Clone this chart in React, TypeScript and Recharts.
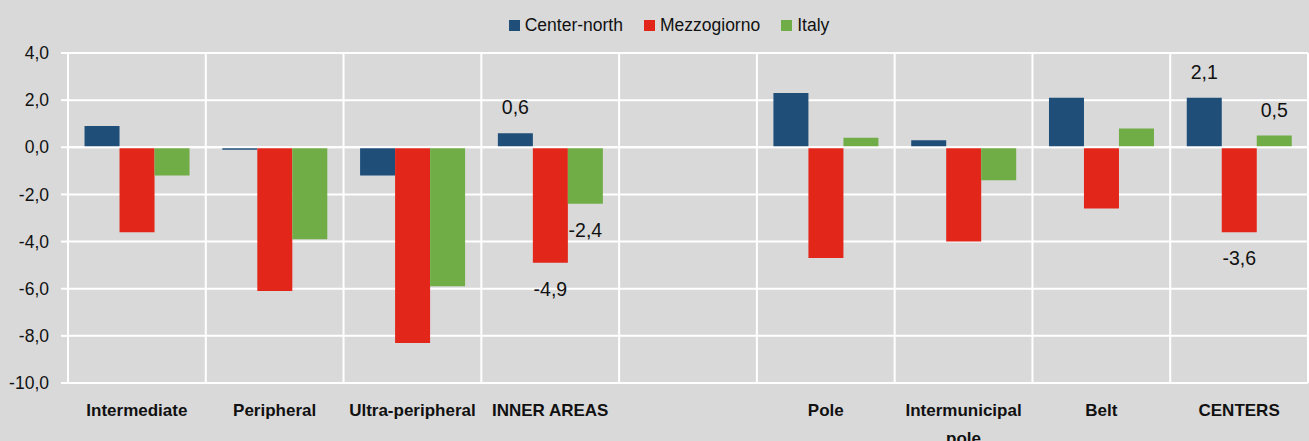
import { BarChart, Bar, XAxis, YAxis, CartesianGrid, Legend, LabelList, ReferenceLine } from "recharts";

const CATEGORIES = [
  "Intermediate",
  "Peripheral",
  "Ultra-peripheral",
  "INNER AREAS",
  "",
  "Pole",
  "Intermunicipal pole",
  "Belt",
  "CENTERS",
];
const CENTER_NORTH = [0.9, -0.1, -1.2, 0.6, null, 2.3, 0.3, 2.1, 2.1];
const MEZZOGIORNO = [-3.6, -6.1, -8.3, -4.9, null, -4.7, -4.0, -2.6, -3.6];
const ITALY = [-1.2, -3.9, -5.9, -2.4, null, 0.4, -1.4, 0.8, 0.5];
const LABELLED = ["INNER AREAS", "CENTERS"];
const Y_TICKS = [-10, -8, -6, -4, -2, 0, 2, 4];

const SERIES = [
  { key: "cn", label: "Center-north", color: "#1f4e79", values: CENTER_NORTH },
  { key: "mz", label: "Mezzogiorno", color: "#e3261a", values: MEZZOGIORNO },
  { key: "it", label: "Italy", color: "#70ad47", values: ITALY },
] as const;

const data = CATEGORIES.map((category, i) => {
  const row: Record<string, string | number | null> = { category: category || " " };
  SERIES.forEach(s => {
    row[s.key] = s.values[i];
    row[s.key + "Label"] = LABELLED.includes(category) ? s.values[i] : null;
  });
  return row;
});

const FONT = "'Liberation Sans', Arial, sans-serif";
const fmt = (v: number) => v.toFixed(1).replace(".", ",");

// vertical grid lines sit on the category boundaries, not on the band centres
const boundaryLines = ({ offset }: any) =>
  Array.from({ length: CATEGORIES.length + 1 }, (_, i) => offset.left + (offset.width * i) / CATEGORIES.length);

function CategoryTick({ x = 0, y = 0, payload }: { x?: number; y?: number; payload?: { value: string } }) {
  const text = (payload?.value ?? "").trim();
  const lines = text.length > 17 && text.includes(" ") ? text.split(" ") : [text];
  return (
    <text x={x} y={y} textAnchor="middle" fontSize={17} fontWeight="bold" fill="#111" fontFamily={FONT}>
      {lines.map((l, i) => (
        <tspan key={i} x={x} dy={i === 0 ? 33 : 28}>
          {l}
        </tspan>
      ))}
    </text>
  );
}

function EndLabel(props: any) {
  const { x, y, width, height, value } = props;
  if (value === null || value === undefined) return null;
  const top = Math.min(y, y + height);
  const bottom = Math.max(y, y + height);
  const cy = value >= 0 ? top - 26 : bottom + 26;
  return (
    <text x={x + width / 2} y={cy} dy={7} textAnchor="middle" fontSize={19.5} fill="#111" fontFamily={FONT}>
      {fmt(value)}
    </text>
  );
}

function LegendBox() {
  return (
    <div
      style={{
        height: 53,
        boxSizing: "border-box",
        paddingTop: 15,
        paddingLeft: 30,
        display: "flex",
        justifyContent: "center",
        alignItems: "flex-start",
        gap: 21,
        fontFamily: FONT,
        fontSize: 17.5,
        color: "#111",
        lineHeight: "20px",
      }}
    >
      {SERIES.map(s => (
        <span key={s.key} style={{ display: "flex", alignItems: "center", gap: 5 }}>
          <span style={{ width: 11, height: 11, background: s.color, display: "inline-block" }} />
          {s.label}
        </span>
      ))}
    </div>
  );
}

export default function App() {
  return (
    <div style={{ position: "absolute", left: 0, top: 0, width: 1309, height: 441, background: "#d9d9d9" }}>
      <BarChart
        width={1309}
        height={441}
        data={data}
        margin={{ top: 0, right: 1, bottom: 0, left: 0 }}
        barCategoryGap="12%"
        barGap={0}
      >
        <CartesianGrid stroke="#ffffff" strokeWidth={2} verticalCoordinatesGenerator={boundaryLines} />
        <XAxis
          dataKey="category"
          axisLine={false}
          tickLine={false}
          tickSize={0}
          tickMargin={0}
          height={58}
          interval={0}
          tick={<CategoryTick />}
        />
        <YAxis
          domain={[-10, 4]}
          ticks={Y_TICKS}
          width={68}
          tickFormatter={fmt}
          axisLine={{ stroke: "#ffffff", strokeWidth: 2 }}
          tickLine={{ stroke: "#ffffff", strokeWidth: 2 }}
          tickSize={7}
          tickMargin={12}
          tick={{ fill: "#111", fontSize: 17.5, fontFamily: FONT }}
        />
        <Legend verticalAlign="top" content={<LegendBox />} />
        <ReferenceLine y={0} stroke="#ffffff" strokeWidth={2} />
        {SERIES.map(s => (
          <Bar key={s.key} dataKey={s.key} name={s.label} fill={s.color} isAnimationActive={false}>
            <LabelList dataKey={s.key + "Label"} content={<EndLabel />} />
          </Bar>
        ))}
      </BarChart>
    </div>
  );
}
